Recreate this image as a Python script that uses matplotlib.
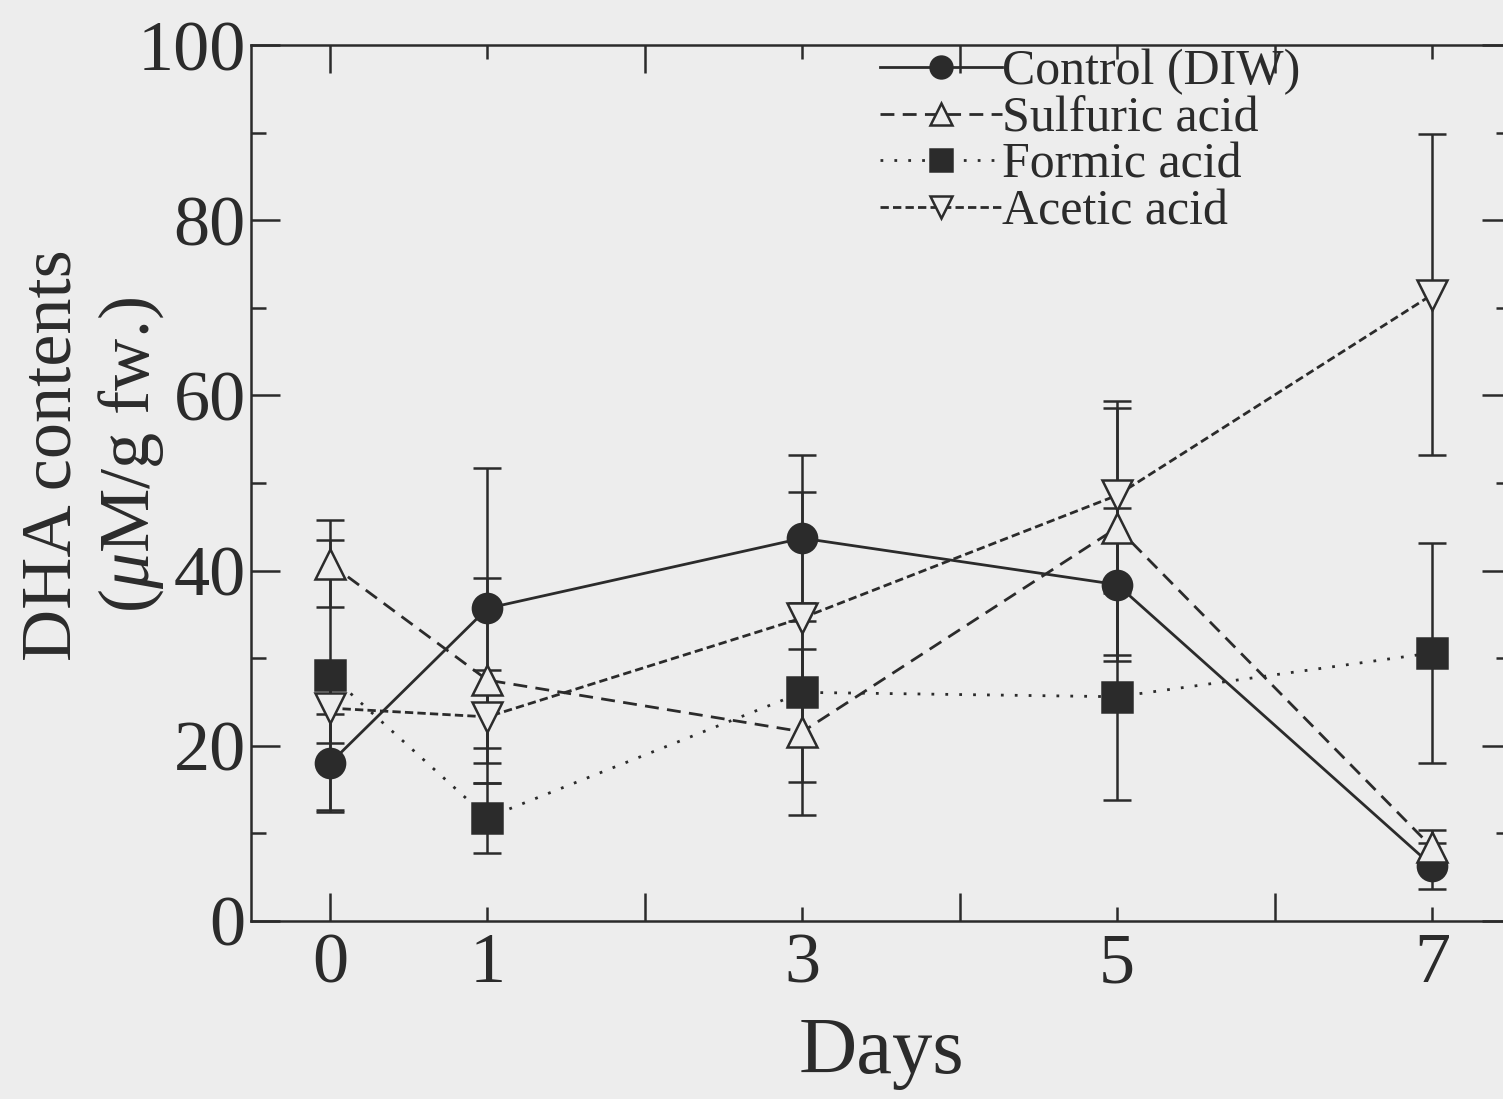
import matplotlib
matplotlib.use("Agg")
import matplotlib.pyplot as plt
from matplotlib.ticker import MultipleLocator, FixedLocator, FixedFormatter

days = [0, 1, 3, 5, 7]
control = [18.0, 35.7, 43.7, 38.4, 6.3]
control_err = [5.6, 16.0, 9.5, 8.7, 2.6]
sulfuric = [40.8, 27.5, 21.6, 44.9, 8.4]
sulfuric_err = [5.0, 11.7, 9.5, 14.5, 2.0]
formic = [28.1, 11.8, 26.1, 25.6, 30.6]
formic_err = [15.4, 4.0, 10.2, 11.8, 12.6]
acetic = [24.3, 23.3, 34.6, 48.6, 71.5]
acetic_err = [4.0, 5.3, 14.4, 10.0, 18.3]
series_labels = ['Control (DIW)', 'Sulfuric acid', 'Formic acid', 'Acetic acid']
x_major = [0, 2, 4, 6]
x_major_labels = ['0', '', '', '']
x_minor = [1, 3, 5, 7]
x_minor_labels = ['1', '3', '5', '7']
ytick_pos = [0, 20, 40, 60, 80, 100]

plt.rcParams['font.family'] = ['Liberation Serif', 'DejaVu Serif']
plt.rcParams['mathtext.fontset'] = 'custom'
plt.rcParams['mathtext.rm'] = 'Liberation Serif'
plt.rcParams['mathtext.it'] = 'Liberation Serif:italic'

bg = '#ededed'
ink = '#2b2b2b'
fig = plt.figure(figsize=(15.03, 10.99), dpi=100, facecolor=bg)
ax = fig.add_axes([0.1672, 0.162, 0.838, 0.797], facecolor=bg)

common = dict(color=ink, ecolor=ink, elinewidth=1.8, capsize=10, capthick=1.8,
              markersize=21, markeredgewidth=1.8, linewidth=2.0)
c1 = ax.errorbar(days, control, yerr=control_err, fmt='o', linestyle='-',
                 markerfacecolor=ink, markeredgecolor=ink, **common)
c2 = ax.errorbar(days, sulfuric, yerr=sulfuric_err, fmt='^', linestyle=(0, (5, 3)),
                 markerfacecolor=bg, markeredgecolor=ink, **common)
c3 = ax.errorbar(days, formic, yerr=formic_err, fmt='s', linestyle=(0, (1, 4)),
                 markerfacecolor=ink, markeredgecolor=ink, **common)
c4 = ax.errorbar(days, acetic, yerr=acetic_err, fmt='v', linestyle=(0, (3, 1.5)),
                 markerfacecolor=bg, markeredgecolor=ink, **common)

ax.set_xlim(-0.5, 7.5)
ax.set_ylim(0, 100)
ax.xaxis.set_major_locator(FixedLocator(x_major))
ax.xaxis.set_major_formatter(FixedFormatter(x_major_labels))
ax.xaxis.set_minor_locator(FixedLocator(x_minor))
ax.xaxis.set_minor_formatter(FixedFormatter(x_minor_labels))
ax.set_yticks(ytick_pos)
ax.yaxis.set_minor_locator(MultipleLocator(10))
ax.tick_params(axis='both', which='both', direction='in', top=True, right=True,
               color=ink, width=1.8, labelcolor=ink, labelsize=52)
ax.tick_params(axis='y', which='major', length=21, pad=4)
ax.tick_params(axis='y', which='minor', length=11)
ax.tick_params(axis='x', which='major', length=20, pad=8)
ax.tick_params(axis='x', which='minor', length=10, pad=8)
for s in ax.spines.values():
    s.set_color(ink)
    s.set_linewidth(1.8)

ax.set_xlabel('Days', fontsize=58, color=ink, labelpad=14)
ax.set_ylabel('DHA contents\n($\\mu$M/g fw.)', fontsize=52, color=ink,
              linespacing=1.2)
ax.yaxis.set_label_coords(-0.068, 0.532)

leg = ax.legend([c1[0], c2[0], c3[0], c4[0]], series_labels,
                loc='upper left', bbox_to_anchor=(0.479, 1.024), frameon=False,
                fontsize=36, handlelength=2.45, handletextpad=0.0,
                labelspacing=0.0, markerscale=0.75, borderpad=0, numpoints=1)
for t in leg.get_texts():
    t.set_color(ink)

fig.savefig('out.png', dpi=100, facecolor=bg)
